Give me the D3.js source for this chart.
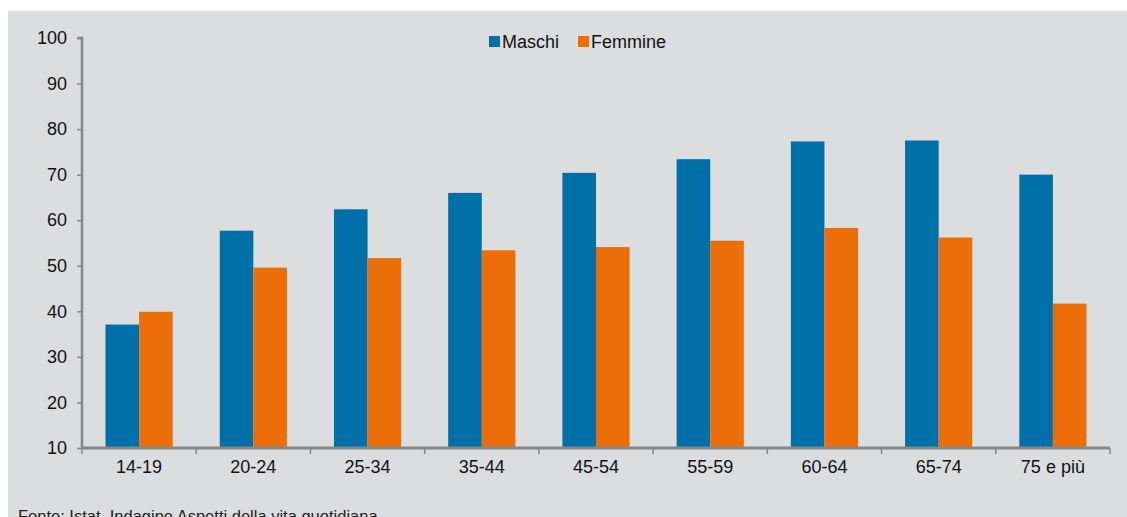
<!DOCTYPE html>
<html lang="it">
<head>
<meta charset="utf-8">
<title>Maschi e Femmine per classe di età</title>
<script src="https://cdn.jsdelivr.net/npm/d3@7"></script>
<style>
  body { margin: 0; background: #fff; }
  svg { display: block; font-family: "Liberation Sans", Arial, sans-serif; }
</style>
</head>
<body>
<script>
// data
var categories = ["14-19", "20-24", "25-34", "35-44", "45-54", "55-59", "60-64", "65-74", "75 e più"];
var series = ["Maschi", "Femmine"];
var maschi = [37.1, 57.7, 62.4, 66.0, 70.4, 73.4, 77.3, 77.5, 70.0];
var femmine = [39.9, 49.6, 51.7, 53.4, 54.1, 55.5, 58.3, 56.2, 41.7];
var yTicks = [10, 20, 30, 40, 50, 60, 70, 80, 90, 100];
var colors = {"Maschi": "#0071a8", "Femmine": "#eb6e08"};

var width = 1127, height = 517;
var plotLeft = 82, plotRight = 1110, plotTop = 38, plotBottom = 448;

var svg = d3.select("body").append("svg")
    .attr("width", width)
    .attr("height", height);

// grey panel
svg.append("rect")
    .attr("x", 8).attr("y", 11)
    .attr("width", width - 8).attr("height", height - 11)
    .attr("fill", "#dcdddf");

var x0 = d3.scaleBand().domain(categories).range([plotLeft, plotRight]).padding(0);
var x1 = d3.scaleBand().domain(series).range([0, x0.bandwidth()])
    .paddingInner(0).paddingOuter(0.7);
var y = d3.scaleLinear().domain([10, 100]).range([plotBottom, plotTop]);

var rows = categories.map(function(c, i) {
  return {cat: c, vals: [{s: "Maschi", v: maschi[i]}, {s: "Femmine", v: femmine[i]}]};
});

// bars
var groups = svg.selectAll("g.grp")
    .data(rows)
    .enter().append("g")
    .attr("class", "grp")
    .attr("transform", function(d) { return "translate(" + x0(d.cat) + ",0)"; });

groups.selectAll("rect")
    .data(function(d) { return d.vals; })
    .enter().append("rect")
    .attr("x", function(d) { return x1(d.s); })
    .attr("y", function(d) { return y(d.v); })
    .attr("width", x1.bandwidth())
    .attr("height", function(d) { return plotBottom - y(d.v); })
    .attr("fill", function(d) { return colors[d.s]; });

// y axis
var yAxis = d3.axisLeft(y).tickValues(yTicks).tickSize(5).tickPadding(10);
var gy = svg.append("g")
    .attr("transform", "translate(" + plotLeft + ",0)")
    .call(yAxis);
gy.select(".domain").attr("stroke", "#878787").attr("stroke-width", 2.5)
    .attr("d", "M-5," + plotTop + "H0V" + plotBottom);
gy.selectAll(".tick line").attr("stroke", "#878787").attr("stroke-width", 1.5);
gy.selectAll(".tick text").attr("font-size", 18).attr("fill", "#111")
    .attr("font-family", "Liberation Sans, Arial, sans-serif");

// x axis: labels centred, ticks at category boundaries
var xAxis = d3.axisBottom(x0).tickSize(0).tickPadding(12);
var gx = svg.append("g")
    .attr("transform", "translate(0," + plotBottom + ")")
    .call(xAxis);
gx.select(".domain").remove();
gx.selectAll(".tick text").attr("font-size", 18).attr("fill", "#111")
    .attr("font-family", "Liberation Sans, Arial, sans-serif");

var bounds = categories.map(function(c) { return x0(c); }).concat([plotRight]);
svg.selectAll("line.xt")
    .data(bounds)
    .enter().append("line")
    .attr("class", "xt")
    .attr("x1", function(d) { return d; }).attr("x2", function(d) { return d; })
    .attr("y1", plotBottom).attr("y2", plotBottom + 6)
    .attr("stroke", "#878787").attr("stroke-width", 1.5);

svg.append("line")
    .attr("x1", plotLeft).attr("x2", plotRight)
    .attr("y1", plotBottom).attr("y2", plotBottom)
    .attr("stroke", "#878787").attr("stroke-width", 3);

// legend
var legX = [489, 578];
var leg = svg.selectAll("g.leg")
    .data(series)
    .enter().append("g")
    .attr("class", "leg")
    .attr("transform", function(d, i) { return "translate(" + legX[i] + ",36)"; });
leg.append("rect")
    .attr("width", 11).attr("height", 11)
    .attr("fill", function(d) { return colors[d]; });
leg.append("text")
    .attr("x", 13).attr("y", 11.5)
    .attr("font-size", 18).attr("fill", "#111")
    .text(function(d) { return d; });

// source note (cut by the bottom edge, as in the original)
svg.append("text")
    .attr("x", 18).attr("y", 522)
    .attr("font-family", "Liberation Sans Narrow, Arial Narrow, sans-serif")
    .attr("font-size", 16.5).attr("fill", "#222")
    .text("Fonte: Istat, Indagine Aspetti della vita quotidiana");
</script>
</body>
</html>
